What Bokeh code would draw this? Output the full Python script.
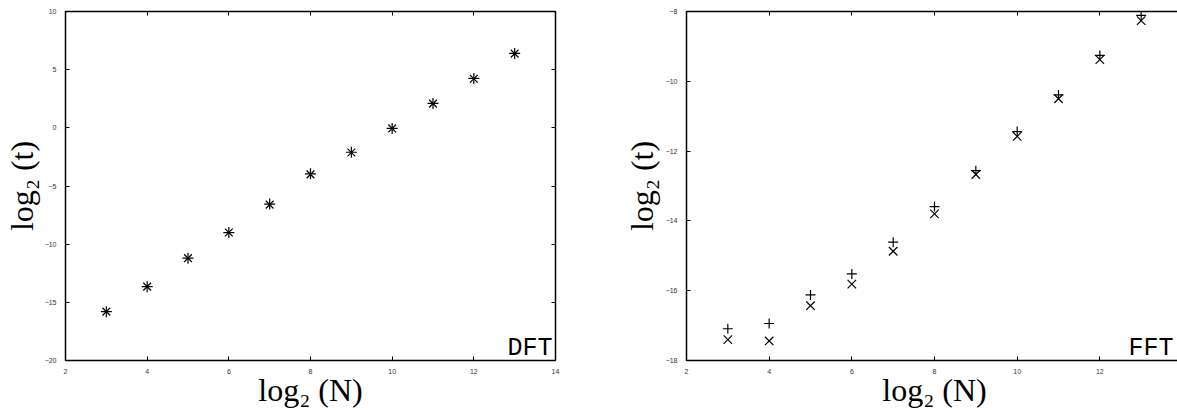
from bokeh.plotting import figure
from bokeh.models import Label, LinearAxis, SingleIntervalTicker, Range1d, ColumnDataSource
from bokeh.layouts import row
from bokeh.embed import file_html
from bokeh.resources import INLINE

# ---- data ----
log2_N = [3, 4, 5, 6, 7, 8, 9, 10, 11, 12, 13]

dft_plus = [-15.80, -13.65, -11.20, -9.00, -6.55, -3.95, -2.10, -0.05, 2.10, 4.25, 6.40]
dft_cross = [-15.80, -13.65, -11.20, -9.00, -6.60, -4.00, -2.12, -0.05, 2.08, 4.22, 6.38]

fft_plus = [-17.09, -16.94, -16.12, -15.52, -14.61, -13.59, -12.56, -11.44, -10.39, -9.26, -8.11]
fft_cross = [-17.40, -17.44, -16.43, -15.81, -14.87, -13.80, -12.67, -11.58, -10.50, -9.38, -8.26]

x_limits = (2, 14)
x_tick_step = 2
dft_y_limits = (-20, 10)
dft_y_step = 5
fft_y_limits = (-18, -8)
fft_y_step = 2

x_title = "log\u2082 (N)"
y_title = "log\u2082 (t)"

TICK_FONT = "Liberation Sans"
SERIF = "Liberation Serif"
MONO = "Liberation Mono"


def style_axis(ax, show_labels=True):
    ax.axis_line_color = None
    ax.major_tick_in = 4
    ax.major_tick_out = 0
    ax.major_tick_line_color = "black"
    ax.major_tick_line_width = 1
    ax.minor_tick_line_color = None
    ax.major_label_text_font = TICK_FONT
    if show_labels:
        ax.major_label_text_font_size = "7px"
        ax.major_label_text_color = "#333333"
        ax.major_label_standoff = 4
    else:
        ax.major_label_text_font_size = "0px"
        ax.major_label_text_color = None
        ax.major_label_standoff = 0


def make_panel(width, border_left, border_right, ylim, ystep, plus, cross, tag,
               plus_size, cross_size, ylab_standoff, tag_x):
    p = figure(width=width, height=412, x_range=Range1d(*x_limits), y_range=Range1d(*ylim),
               output_backend="svg", toolbar_location=None,
               min_border_left=border_left, min_border_right=border_right,
               min_border_top=11, min_border_bottom=52)
    p.xgrid.visible = False
    p.ygrid.visible = False
    p.outline_line_color = "black"
    p.outline_line_width = 1.5
    p.background_fill_color = "white"
    p.border_fill_color = "white"

    p.xaxis.ticker = SingleIntervalTicker(interval=x_tick_step)
    p.yaxis.ticker = SingleIntervalTicker(interval=ystep)
    for ax in p.xaxis:
        style_axis(ax)
    for ax in p.yaxis:
        style_axis(ax)
    p.yaxis.major_label_standoff = 5

    for ax, title in ((p.xaxis[0], x_title), (p.yaxis[0], y_title)):
        ax.axis_label = title
        ax.axis_label_text_font = SERIF
        ax.axis_label_text_font_size = "32px"
        ax.axis_label_text_font_style = "normal"
        ax.axis_label_text_color = "black"
    p.xaxis[0].axis_label_standoff = -5
    p.yaxis[0].axis_label_standoff = ylab_standoff

    top = LinearAxis(ticker=SingleIntervalTicker(interval=x_tick_step))
    style_axis(top, show_labels=False)
    p.add_layout(top, "above")
    right = LinearAxis(ticker=SingleIntervalTicker(interval=ystep))
    style_axis(right, show_labels=False)
    p.add_layout(right, "right")

    src = ColumnDataSource(dict(x=log2_N, yp=plus, yc=cross))
    p.scatter("x", "yp", source=src, marker="cross", size=plus_size,
              line_color="black", line_width=1.2)
    p.scatter("x", "yc", source=src, marker="x", size=cross_size,
              line_color="black", line_width=1.2)

    p.add_layout(Label(x=tag_x, y=12, x_units="screen", y_units="screen", text=tag,
                       text_font=MONO, text_font_size="25px", text_color="black",
                       text_align="right", text_baseline="alphabetic"))
    return p


p1 = make_panel(620, 61, 65, dft_y_limits, dft_y_step, dft_plus, dft_cross, "DFT", 11, 11, 2, 487)
p2 = make_panel(566, 63, 1, fft_y_limits, fft_y_step, fft_plus, fft_cross, "FFT", 10, 12, 3, 487)

layout = row(p1, p2)
open("out.html", "w").write(file_html(layout, INLINE))
